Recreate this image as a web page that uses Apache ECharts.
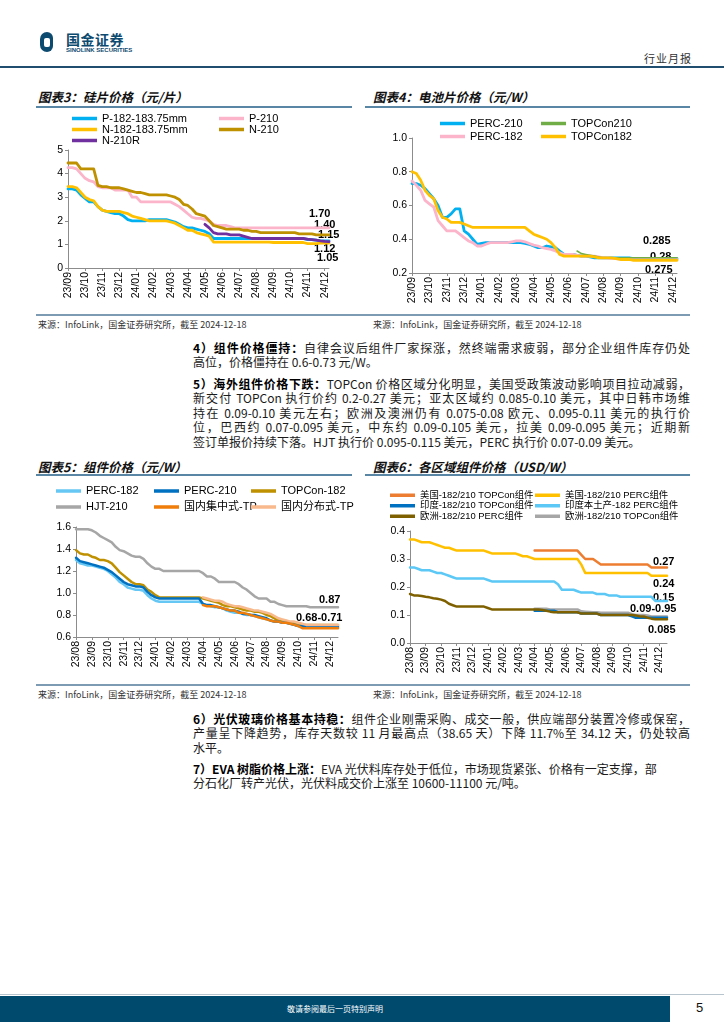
<!DOCTYPE html>
<html><head><meta charset="utf-8">
<script src="https://cdn.jsdelivr.net/npm/echarts@6/dist/echarts.min.js"></script>
<style>
body{margin:0;width:724px;height:1024px;position:relative;background:#fff;font-family:'Noto Sans CJK SC',sans-serif;overflow:hidden}
.title{position:absolute;font-weight:bold;font-style:italic;font-size:12.5px;color:#111;line-height:14px;white-space:nowrap}
.tline{position:absolute;height:2px;background:#5a86a6}
.bline{position:absolute;height:1.5px;background:#7d9cb4}
.src{position:absolute;font-size:9px;color:#333;line-height:10px;white-space:nowrap}
.para{position:absolute;left:193px;width:497px;font-size:12px;color:#1a1a1a;line-height:14.5px}
.ln{white-space:nowrap;height:14.5px;text-align:justify;text-align-last:justify}
.ln.last{text-align-last:left}
.chart{position:absolute}
b{font-weight:bold;color:#000}
</style></head>
<body>
<!-- header -->
<div style="position:absolute;left:40px;top:32px;width:13px;height:20px;border-radius:7px 6px 6px 7px;background:#0d4a70"></div>
<div style="position:absolute;left:44px;top:38px;width:6px;height:9px;border-radius:2px;background:#fff"></div>
<div style="position:absolute;left:66px;top:31px;font-size:14px;font-weight:bold;color:#0d4a70;letter-spacing:0.5px;line-height:16px">国金证券</div>
<div style="position:absolute;left:66px;top:47px;font-size:6px;font-weight:bold;color:#0d4a70;line-height:7px;font-family:'Liberation Sans'">SINOLINK SECURITIES</div>
<div style="position:absolute;left:644px;top:51px;font-size:11px;color:#333;letter-spacing:1px;line-height:14px">行业月报</div>
<div style="position:absolute;left:0;top:66px;width:724px;height:1.5px;background:#1f4e6e"></div>

<!-- titles -->
<div class="title" style="left:38px;top:90px">图表3：硅片价格（元/片）</div>
<div class="title" style="left:373px;top:90px">图表4：电池片价格（元/W）</div>
<div class="tline" style="left:36px;top:106px;width:316px"></div>
<div class="tline" style="left:365px;top:106px;width:325px"></div>
<div class="chart" id="c3" style="left:36px;top:108px;width:318px;height:205px"></div>
<div class="chart" id="c4" style="left:365px;top:108px;width:330px;height:205px"></div>
<div class="bline" style="left:36px;top:314px;width:654px"></div>
<div class="src" style="left:38px;top:320px">来源：InfoLink，国金证券研究所，截至 2024-12-18</div>
<div class="src" style="left:373px;top:320px">来源：InfoLink，国金证券研究所，截至 2024-12-18</div>

<div class="para" style="top:340.5px">
<div class="ln"><span><b>4）组件价格僵持：</b>自律会议后组件厂家探涨，然终端需求疲弱，部分企业组件库存仍处</span></div>
<div class="ln last"><span>高位，价格僵持在 0.6-0.73 元/W。</span></div>
</div>
<div class="para" style="top:376.5px">
<div class="ln"><span><b>5）海外组件价格下跌：</b>TOPCon 价格区域分化明显，美国受政策波动影响项目拉动减弱，</span></div>
<div class="ln"><span>新交付 TOPCon 执行价约 0.2-0.27 美元；亚太区域约 0.085-0.10 美元，其中日韩市场维</span></div>
<div class="ln"><span>持在 0.09-0.10 美元左右；欧洲及澳洲仍有 0.075-0.08 欧元、0.095-0.11 美元的执行价</span></div>
<div class="ln"><span>位，巴西约 0.07-0.095 美元，中东约 0.09-0.105 美元，拉美 0.09-0.095 美元；近期新</span></div>
<div class="ln last"><span>签订单报价持续下落。HJT 执行价 0.095-0.115 美元，PERC 执行价 0.07-0.09 美元。</span></div>
</div>

<div class="title" style="left:38px;top:460px">图表5：组件价格（元/W）</div>
<div class="title" style="left:373px;top:460px">图表6：各区域组件价格（USD/W）</div>
<div class="tline" style="left:36px;top:474px;width:316px"></div>
<div class="tline" style="left:365px;top:474px;width:325px"></div>
<div class="chart" id="c5" style="left:36px;top:476px;width:318px;height:208px"></div>
<div class="chart" id="c6" style="left:365px;top:476px;width:330px;height:208px"></div>
<div class="bline" style="left:36px;top:684px;width:654px"></div>
<div class="src" style="left:38px;top:690px">来源：InfoLink，国金证券研究所，截至 2024-12-18</div>
<div class="src" style="left:373px;top:690px">来源：InfoLink，国金证券研究所，截至 2024-12-18</div>

<div class="para" style="top:711.5px">
<div class="ln"><span><b>6）光伏玻璃价格基本持稳：</b>组件企业刚需采购、成交一般，供应端部分装置冷修或保窑，</span></div>
<div class="ln"><span>产量呈下降趋势，库存天数较 11 月最高点（38.65 天）下降 11.7%至 34.12 天，仍处较高</span></div>
<div class="ln last"><span>水平。</span></div>
</div>
<div class="para" style="top:761.5px">
<div class="ln"><span><b>7）EVA 树脂价格上涨：</b>EVA 光伏料库存处于低位，市场现货紧张、价格有一定支撑，部</span></div>
<div class="ln last"><span>分石化厂转产光伏，光伏料成交价上涨至 10600-11100 元/吨。</span></div>
</div>

<!-- footer -->
<div style="position:absolute;left:0;top:994px;width:724px;height:1px;background:#b8c4ce"></div>
<div style="position:absolute;left:0;top:996px;width:670px;height:26px;background:#004a6e;color:#fff;font-size:8px;line-height:26px;text-align:center">敬请参阅最后一页特别声明</div>
<div style="position:absolute;left:696px;top:1000px;font-size:13px;color:#111;font-family:'Liberation Sans';line-height:16px">5</div>

<script>
// ---------- tick labels ----------
const months3 = ['23/09','23/10','23/11','23/12','24/01','24/02','24/03','24/04','24/05','24/06','24/07','24/08','24/09','24/10','24/11','24/12'];
const months5 = ['23/08','23/09','23/10','23/11','23/12','24/01','24/02','24/03','24/04','24/05','24/06','24/07','24/08','24/09','24/10','24/11','24/12'];

// ---------- Chart 3: 硅片价格 (weekly, 4 per month) ----------
const si_p182 = [3.35,3.35,3.3,3.1, 2.95,2.8,2.8,2.6, 2.45,2.4,2.35,2.3, 2.3,2.2,2.05,2.0, 2.0,2.0,2.0,2.05, 2.05,2.05,2.05,2.05, 2.0,1.95,1.85,1.75, 1.7,1.7,1.65,1.6, 1.55,1.45,1.25,1.25, 1.25,1.25,1.25,1.25, 1.25,1.25,1.25,1.25, 1.25,1.25,1.25,1.25, 1.25,1.25,1.25,1.25, 1.25,1.25,1.25,1.25, 1.2,1.2,1.18,1.15, 1.15,1.15];
const si_p210 = [4.25,4.25,4.2,4.0, 3.8,3.7,3.65,3.45, 3.4,3.4,3.4,3.3, 3.3,3.3,3.3,3.0, 3.0,2.8,2.8,2.8, 2.8,2.8,2.8,2.8, 2.8,2.7,2.6,2.45, 2.3,2.15,2.1,2.1, 2.05,2.0,1.85,1.8, 1.8,1.8,1.75,1.7, 1.7,1.7,1.7,1.7, 1.7,1.7,1.7,1.7, 1.7,1.7,1.7,1.7, 1.7,1.7,1.7,1.7, 1.7,1.7,1.7,1.7, 1.7,1.7];
const si_n182 = [3.45,3.45,3.4,3.2, 3.0,2.9,2.85,2.6, 2.45,2.4,2.4,2.4, 2.4,2.35,2.3,2.2, 2.15,2.1,2.05,2.0, 2.0,2.0,2.0,2.0, 1.95,1.9,1.8,1.7, 1.6,1.6,1.5,1.45, 1.4,1.35,1.1,1.1, 1.1,1.1,1.1,1.1, 1.1,1.1,1.1,1.1, 1.1,1.1,1.1,1.1, 1.08,1.08,1.08,1.08, 1.08,1.08,1.08,1.08, 1.03,1.03,1.03,1.05, 1.05,1.05];
const si_n210 = [4.45,4.45,4.45,4.2, 4.2,4.2,4.2,3.5, 3.45,3.45,3.4,3.4, 3.4,3.35,3.3,3.25, 3.2,3.2,3.15,3.1, 3.1,3.1,3.1,3.1, 3.05,3.0,2.9,2.7, 2.65,2.5,2.3,2.25, 2.2,2.0,1.8,1.75, 1.7,1.65,1.65,1.65, 1.65,1.6,1.6,1.55, 1.55,1.5,1.5,1.5, 1.5,1.5,1.5,1.5, 1.5,1.5,1.45,1.45, 1.45,1.45,1.4,1.4, 1.4,1.4];
const si_n210r_start = 32;
const si_n210r = [1.85,1.7,1.5,1.45, 1.45,1.45,1.4,1.4, 1.4,1.35,1.3,1.25, 1.25,1.25,1.25,1.25, 1.25,1.25,1.25,1.25, 1.25,1.25,1.25,1.25, 1.22,1.2,1.18,1.15, 1.13,1.12];
const si_notes = [['1.70',273,100],['1.40',278,111],['1.15',282,121],['1.12',278,135],['1.05',281,144]];

// ---------- Chart 4: 电池片价格 ----------
const ce_perc210 = [0.73,0.73,0.72,0.70, 0.67,0.64,0.6,0.53, 0.53,0.55,0.58,0.58, 0.45,0.43,0.4,0.37, 0.375,0.38,0.38,0.38, 0.38,0.38,0.38,0.38, 0.38,0.38,0.375,0.37, 0.36,0.35,0.35,0.36, 0.355,0.35,0.33,0.31, 0.31,0.31,0.305,0.3, 0.3,0.295,0.29,0.29, 0.29,0.29,0.29,0.29, 0.29,0.29,0.29,0.285, 0.285,0.285,0.285,0.285, 0.285,0.285,0.285,0.285, 0.285,0.285];
const ce_perc182 = [0.745,0.72,0.69,0.63, 0.61,0.59,0.51,0.48, 0.45,0.45,0.45,0.43, 0.41,0.39,0.38,0.36, 0.36,0.37,0.38,0.38, 0.38,0.38,0.38,0.385, 0.39,0.39,0.385,0.375, 0.365,0.36,0.35,0.345, 0.34,0.33,0.32,0.31, 0.31,0.31,0.305,0.30, 0.30,0.30,0.30,0.295, 0.29,0.29,0.285,0.285, 0.28,0.28,0.28,0.28, 0.28,0.28,0.28,0.28, 0.28,0.28,0.28,0.28, 0.28,0.28];
const ce_top210_start = 38;
const ce_top210 = [0.33,0.315, 0.31,0.305,0.30,0.295, 0.29,0.29,0.29,0.29, 0.29,0.29,0.29,0.29, 0.29,0.29,0.29,0.29, 0.29,0.29,0.29,0.29, 0.29,0.29];
const ce_top182 = [0.80,0.79,0.75,0.69, 0.66,0.64,0.57,0.53, 0.52,0.50,0.50,0.50, 0.49,0.48,0.47,0.47, 0.47,0.47,0.47,0.47, 0.47,0.47,0.47,0.47, 0.47,0.47,0.47,0.45, 0.43,0.42,0.41,0.40, 0.38,0.35,0.31,0.30, 0.30,0.30,0.30,0.30, 0.30,0.30,0.295,0.29, 0.29,0.29,0.29,0.285, 0.28,0.28,0.28,0.275, 0.275,0.275,0.275,0.275, 0.275,0.275,0.275,0.275, 0.275,0.275];
const ce_notes = [['0.285',278,127],['0.28',285,143],['0.275',280,156]];

// ---------- Chart 5: 组件价格 ----------
const mo_perc182 = [1.3,1.27,1.26,1.25, 1.25,1.24,1.23,1.22, 1.2,1.17,1.14,1.1, 1.08,1.05,1.04,1.03, 1.03,1.02,0.98,0.95, 0.93,0.92,0.92,0.92, 0.92,0.92,0.92,0.92, 0.92,0.92,0.92,0.92, 0.9,0.89,0.88,0.87, 0.87,0.86,0.84,0.83, 0.82,0.82,0.81,0.8, 0.8,0.79,0.78,0.77, 0.76,0.75,0.74,0.74, 0.73,0.73,0.72,0.71, 0.7,0.69,0.69,0.69, 0.69,0.69,0.69,0.69, 0.69,0.69,0.69];
const mo_perc210 = [1.32,1.29,1.28,1.27, 1.26,1.25,1.24,1.23, 1.21,1.19,1.16,1.13, 1.1,1.08,1.07,1.06, 1.06,1.05,1.01,0.98, 0.96,0.95,0.95,0.95, 0.95,0.95,0.95,0.95, 0.95,0.95,0.95,0.95, 0.9,0.89,0.89,0.88, 0.87,0.86,0.85,0.84, 0.84,0.83,0.81,0.81, 0.8,0.8,0.79,0.78, 0.77,0.75,0.74,0.74, 0.73,0.73,0.72,0.71, 0.7,0.7,0.7,0.69, 0.69,0.69,0.69,0.69, 0.69,0.69,0.69];
const mo_top182 = [1.39,1.36,1.35,1.35, 1.33,1.32,1.3,1.3, 1.29,1.27,1.23,1.19, 1.16,1.13,1.1,1.08, 1.08,1.07,1.03,1.01, 0.98,0.96,0.96,0.96, 0.96,0.96,0.96,0.96, 0.96,0.96,0.96,0.96, 0.95,0.94,0.93,0.92, 0.91,0.89,0.88,0.88, 0.87,0.86,0.85,0.84, 0.84,0.83,0.83,0.82, 0.8,0.79,0.77,0.75, 0.74,0.74,0.73,0.72, 0.71,0.71,0.71,0.71, 0.71,0.71,0.71,0.71, 0.71,0.71,0.71];
const mo_hjt = [1.58,1.58,1.58,1.58, 1.57,1.55,1.52,1.5, 1.48,1.46,1.42,1.39, 1.38,1.36,1.34,1.33, 1.33,1.31,1.27,1.24, 1.22,1.22,1.2,1.2, 1.2,1.2,1.2,1.2, 1.2,1.2,1.2,1.2, 1.18,1.15,1.15,1.13, 1.1,1.1,1.1,1.1, 1.1,1.08,1.05,1.03, 1.0,0.97,0.95,0.95, 0.95,0.92,0.92,0.9, 0.89,0.88,0.88,0.88, 0.88,0.88,0.88,0.87, 0.87,0.87,0.87,0.87, 0.87,0.87,0.87];
const mo_tp_start = 32;
const mo_jzs = [0.89,0.88,0.88,0.88, 0.87,0.86,0.85,0.84, 0.84,0.82,0.82,0.81, 0.8,0.79,0.78,0.77, 0.76,0.75,0.74,0.74, 0.73,0.73,0.72,0.71, 0.7,0.68,0.68,0.68, 0.68,0.68,0.68,0.68, 0.68,0.68,0.68];
const mo_fbs = [0.96,0.95,0.94,0.93, 0.93,0.92,0.9,0.89, 0.88,0.88,0.87,0.86, 0.85,0.84,0.84,0.83, 0.82,0.81,0.79,0.77, 0.76,0.75,0.74,0.74, 0.73,0.72,0.71,0.71, 0.71,0.71,0.71,0.71, 0.71,0.71,0.71];
const mo_notes = [['0.87',283,118],['0.68-0.71',260,136]];

// ---------- Chart 6: 各区域组件价格 ----------
const rg_start = 32;
const rg_usTop = [0.33,0.33,0.33,0.33, 0.33,0.33,0.33,0.33, 0.33,0.33,0.33,0.33, 0.315,0.3,0.3,0.3, 0.29,0.28,0.28,0.28, 0.28,0.28,0.28,0.28, 0.28,0.28,0.28,0.28, 0.28,0.28,0.27,0.27, 0.27,0.27,0.27];
const rg_usPerc = [0.37,0.37,0.365,0.36, 0.36,0.36,0.355,0.35, 0.345,0.34,0.34,0.335, 0.33,0.33,0.33,0.33, 0.33,0.33,0.33,0.33, 0.325,0.32,0.32,0.32, 0.32,0.32,0.32,0.32, 0.315,0.31,0.31,0.305, 0.3,0.3,0.3,0.3, 0.3,0.3,0.3,0.3, 0.3,0.3,0.3,0.3, 0.28,0.25,0.25,0.25, 0.25,0.25,0.25,0.25, 0.25,0.25,0.25,0.25, 0.25,0.25,0.25,0.25, 0.25,0.25,0.24,0.24, 0.24,0.24,0.24];
const rg_inTop = [0.115,0.115,0.115,0.115, 0.115,0.115,0.11,0.11, 0.11,0.11,0.11,0.11, 0.105,0.105,0.105,0.105, 0.105,0.1,0.1,0.1, 0.1,0.1,0.1,0.1, 0.1,0.095,0.09,0.09, 0.09,0.09,0.09,0.09, 0.09,0.09,0.09];
const rg_inLocal = [0.27,0.27,0.265,0.26, 0.26,0.26,0.255,0.25, 0.25,0.245,0.24,0.235, 0.23,0.23,0.23,0.23, 0.23,0.23,0.23,0.23, 0.225,0.22,0.22,0.22, 0.22,0.22,0.22,0.22, 0.22,0.22,0.22,0.22, 0.22,0.22,0.22,0.22, 0.22,0.22,0.21,0.19, 0.19,0.19,0.19,0.185, 0.18,0.18,0.18,0.18, 0.175,0.175,0.175,0.17, 0.17,0.17,0.165,0.165, 0.165,0.165,0.165,0.165, 0.165,0.165,0.165,0.15, 0.15,0.15,0.15];
const rg_euPerc = [0.175,0.17,0.17,0.168, 0.165,0.163,0.16,0.158, 0.155,0.15,0.14,0.135, 0.13,0.13,0.13,0.13, 0.13,0.13,0.13,0.13, 0.125,0.12,0.12,0.12, 0.12,0.12,0.12,0.12, 0.12,0.12,0.12,0.12, 0.12,0.12,0.118,0.115, 0.112,0.11,0.11,0.11, 0.11,0.11,0.11,0.11, 0.105,0.105,0.105,0.105, 0.105,0.1,0.1,0.1, 0.1,0.1,0.1,0.1, 0.1,0.1,0.098,0.095, 0.095,0.09,0.087,0.085, 0.085,0.085,0.085];
const rg_euTop = [0.122,0.122,0.122,0.122, 0.12,0.12,0.12,0.12, 0.12,0.12,0.12,0.12, 0.113,0.112,0.111,0.11, 0.11,0.108,0.108,0.108, 0.108,0.108,0.108,0.108, 0.108,0.103,0.1,0.1, 0.1,0.098,0.095,0.095, 0.095,0.095,0.095];
const rg_notes = [['0.27',288,80],['0.24',288,102],['0.15',288,116],['0.09-0.95',265,127],['0.085',283,148]];

// ---------- helpers ----------
function weeks(months, n){ const c=[]; months.forEach(m=>{ for(let w=1;w<=4;w++) c.push(m+'-'+w); }); return c.slice(0,n); }
const cats3 = weeks(months3, 62);
const cats5 = weeks(months5, 67);
function offset(cats, start, arr){ return cats.map((c,i)=> i<start ? null : (arr[i-start] ?? null)); }
const FONT = "'Liberation Sans','Noto Sans CJK SC',sans-serif";
function ln(name, data, color, width){
  return {name, type:'line', data, symbol:'none', showSymbol:false, connectNulls:false,
    lineStyle:{color, width, cap:'round', join:'round'}, itemStyle:{color}, emphasis:{disabled:true}};
}
function legend(left, top, names, lh, fs){
  return {orient:'vertical', left, top, padding:0, itemGap:0, itemWidth:25, itemHeight:3.5, icon:'rect',
    data:names, selectedMode:false, textStyle:{fontSize:fs, lineHeight:lh, color:'#000', fontFamily:FONT}};
}
function notes(list, fs){
  return list.map(n=>({type:'text', left:n[1], top:n[2], silent:true,
    style:{text:n[0], fill:'#000', font:'bold '+fs+'px '+FONT}}));
}
function build(cfg){
  const axisCol = '#8c8c8c';
  return {
    animation:false,
    grid:cfg.grid,
    legend:cfg.legend,
    graphic:cfg.graphic,
    xAxis:{type:'category', data:cfg.cats, boundaryGap:false,
      axisLine:{lineStyle:{color:axisCol,width:1}},
      axisTick:{show:true, interval:(i)=>i%4===0, length:3, lineStyle:{color:axisCol}},
      axisLabel:{interval:(i)=>i%4===0, rotate:90, margin:4, color:'#000', fontSize:10.5, fontFamily:FONT,
        formatter:(v)=>v.split('-')[0]},
      splitLine:{show:false}},
    yAxis:{type:'value', min:cfg.min, max:cfg.max, interval:cfg.interval,
      axisLine:{show:true, lineStyle:{color:axisCol,width:1}},
      axisTick:{show:true, length:3, lineStyle:{color:axisCol}},
      axisLabel:{color:'#000', fontSize:10.5, fontFamily:FONT, margin:5, formatter:cfg.fmt},
      splitLine:{show:false}},
    series:cfg.series
  };
}

// ---------- chart 3 ----------
echarts.init(document.getElementById('c3'), null, {renderer:'canvas'}).setOption(build({
  cats:cats3, min:0, max:5, interval:1, fmt:(v)=>String(v),
  grid:{left:32, top:42, right:25, bottom:45},
  legend:[legend(36,5,['P-182-183.75mm','N-182-183.75mm','N-210R'],10.5,11), legend(183,5,['P-210','N-210'],10.5,11)],
  graphic:notes(si_notes,11),
  series:[
    ln('P-182-183.75mm', si_p182, '#00B0F0', 2.8),
    ln('P-210', si_p210, '#FBB4C9', 2.8),
    ln('N-182-183.75mm', si_n182, '#FFC000', 2.8),
    ln('N-210', si_n210, '#BF9000', 2.8),
    ln('N-210R', offset(cats3, si_n210r_start, si_n210r), '#7030A0', 2.8)
  ]
}));

// ---------- chart 4 ----------
echarts.init(document.getElementById('c4')).setOption(build({
  cats:cats3, min:0.2, max:1.0, interval:0.2, fmt:(v)=>v.toFixed(1),
  grid:{left:47, top:30, right:18, bottom:40},
  legend:[legend(75,9,['PERC-210','PERC-182'],13,11), legend(176,9,['TOPCon210','TOPCon182'],13,11)],
  graphic:notes(ce_notes,11),
  series:[
    ln('PERC-210', ce_perc210, '#00B0F0', 2.8),
    ln('PERC-182', ce_perc182, '#FBB4C9', 2.8),
    ln('TOPCon210', offset(cats3, ce_top210_start, ce_top210), '#70AD47', 1.6),
    ln('TOPCon182', ce_top182, '#FFC000', 2.8)
  ]
}));

// ---------- chart 5 ----------
echarts.init(document.getElementById('c5')).setOption(build({
  cats:cats5, min:0.6, max:1.6, interval:0.2, fmt:(v)=>v.toFixed(1),
  grid:{left:40, top:51, right:16, bottom:47},
  legend:[legend(20,7,['PERC-182','HJT-210'],16,11), legend(118,7,['PERC-210','国内集中式-TP'],16,11), legend(215,7,['TOPCon-182','国内分布式-TP'],16,11)],
  graphic:notes(mo_notes,11),
  series:[
    ln('HJT-210', mo_hjt, '#A6A6A6', 2.5),
    ln('TOPCon-182', mo_top182, '#BF9000', 2.5),
    ln('PERC-182', mo_perc182, '#66C7F4', 2.5),
    ln('PERC-210', mo_perc210, '#0070C0', 2.5),
    ln('国内分布式-TP', offset(cats5, mo_tp_start, mo_fbs), '#F8B98C', 2.5),
    ln('国内集中式-TP', offset(cats5, mo_tp_start, mo_jzs), '#F07D0A', 2.5)
  ]
}));

// ---------- chart 6 ----------
echarts.init(document.getElementById('c6')).setOption(build({
  cats:cats5, min:0, max:0.4, interval:0.1, fmt:(v)=>v.toFixed(1),
  grid:{left:45, top:55, right:28, bottom:41},
  legend:[legend(25,14,['美国-182/210 TOPCon组件','印度-182/210 TOPCon组件','欧洲-182/210 PERC组件'],10.5,9.4),
          legend(170,14,['美国-182/210 PERC组件','印度本土产-182 PERC组件','欧洲-182/210 TOPCon组件'],10.5,9.4)],
  graphic:notes(rg_notes,11),
  series:[
    ln('美国-182/210 PERC组件', rg_usPerc, '#FFC000', 2.5),
    ln('美国-182/210 TOPCon组件', offset(cats5, rg_start, rg_usTop), '#ED7D31', 2.5),
    ln('印度本土产-182 PERC组件', rg_inLocal, '#5BC8F5', 2.5),
    ln('欧洲-182/210 TOPCon组件', offset(cats5, rg_start, rg_euTop), '#A6A6A6', 2.5),
    ln('印度-182/210 TOPCon组件', offset(cats5, rg_start, rg_inTop), '#0070C0', 2.5),
    ln('欧洲-182/210 PERC组件', rg_euPerc, '#7F6000', 2.5)
  ]
}));

// fit paragraph lines into the text column
document.querySelectorAll('.ln').forEach(d=>{
  const s = d.querySelector('span');
  const W = d.clientWidth, w = s.getBoundingClientRect().width;
  if (w > W) { s.style.display='inline-block'; s.style.transformOrigin='left center'; s.style.transform='scaleX('+(W/w)+')'; }
});
</script>
</body></html>
